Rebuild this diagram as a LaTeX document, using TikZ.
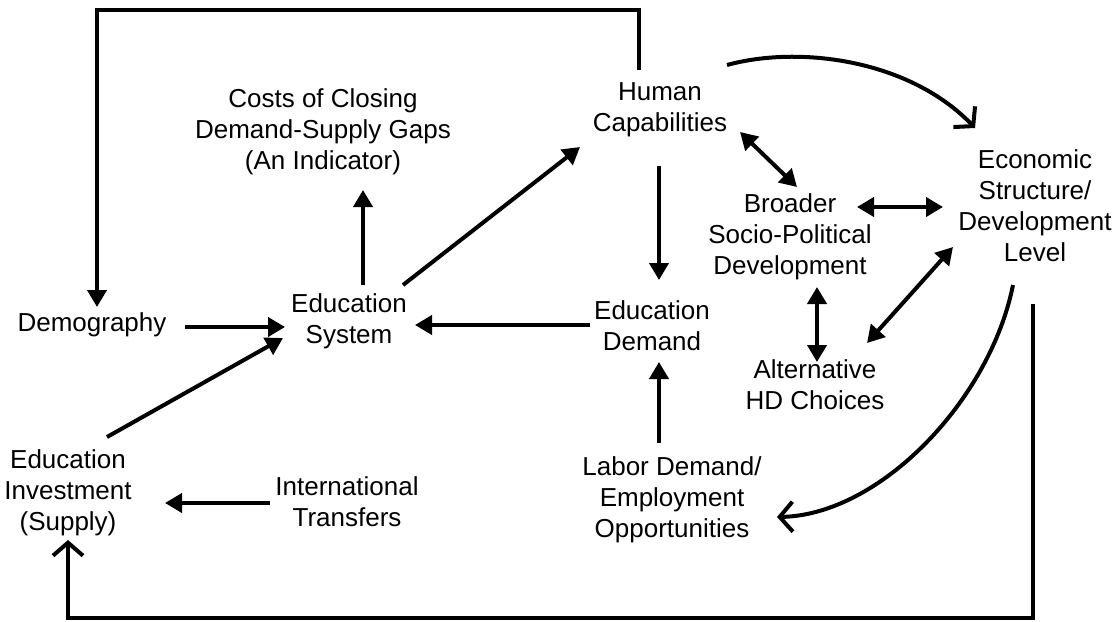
\documentclass[tikz,border=0pt]{standalone}
\usepackage{fontspec}
\setmainfont{Liberation Sans}
\usepackage{tikz}
\usetikzlibrary{arrows.meta}
\newcommand{\diagfont}{\fontsize{13pt}{15.5pt}\selectfont}
\tikzset{
  box/.style={align=center, inner sep=0pt, font=\diagfont},
  arr/.style={line width=2pt, -{Triangle[length=8.5pt,width=9.5pt]}},
  dbl/.style={line width=2pt, {Triangle[length=8.5pt,width=9.5pt]}-{Triangle[length=8.5pt,width=9.5pt]}},
  curvy/.style={line width=2pt, -{Straight Barb[length=6.5pt,width=15pt]}},
  feedback/.style={line width=2pt},
}
\begin{document}
\begin{tikzpicture}[x=0.5pt, y=-0.5pt]
%page
\useasboundingbox (0,0) rectangle (1112,621);
%nodes
\node[box] (demo) at (92,325) {Demography};
\node[box] (edsys) at (349,321) {Education\\System};
\node[box] (costs) at (323,132) {Costs of Closing\\Demand-Supply Gaps\\(An Indicator)};
\node[box] (humcap) at (660,110) {Human\\Capabilities};
\node[box] (econ) at (1035,206) {Economic\\Structure/\\Development\\Level};
\node[box] (broader) at (790,237) {Broader\\Socio-Political\\Development};
\node[box] (alt) at (815,385) {Alternative\\HD Choices};
\node[box] (eddem) at (652,326) {Education\\Demand};
\node[box] (labor) at (672,500) {Labor Demand/\\Employment\\Opportunities};
\node[box] (edinv) at (68,493) {Education\\Investment\\(Supply)};
\node[box] (intl) at (347,502) {International\\Transfers};
%straight arrows
\draw[arr] ([shift={(93,2)}]demo.center) -- ([shift={(-64,6)}]edsys.center);
\draw[arr] ([shift={(39,-56)}]edinv.center) -- ([shift={(-66,17)}]edsys.center);
\draw[arr] ([shift={(-77,1)}]intl.center) -- ([shift={(97,10)}]edinv.center);
\draw[arr] ([shift={(14,-36)}]edsys.center) -- ([shift={(40,58)}]costs.center);
\draw[arr] ([shift={(54,-36)}]edsys.center) -- ([shift={(-80,37)}]humcap.center);
\draw[arr] ([shift={(-62,-1)}]eddem.center) -- ([shift={(66,4)}]edsys.center);
\draw[arr] ([shift={(-1,56)}]humcap.center) -- ([shift={(7,-46)}]eddem.center);
\draw[arr] ([shift={(-13,-57)}]labor.center) -- ([shift={(7,36)}]eddem.center);
%two-way arrows
\draw[dbl] ([shift={(80,22)}]humcap.center) -- ([shift={(7,-50)}]broader.center);
\draw[dbl] ([shift={(67,-30)}]broader.center) -- ([shift={(-92,1)}]econ.center);
\draw[dbl] ([shift={(27,50)}]broader.center) -- ([shift={(2,-23)}]alt.center);
\draw[dbl] ([shift={(52,-42)}]alt.center) -- ([shift={(-82,41)}]econ.center);
%curved arrows
\draw[curvy] ([shift={(67,-45)}]humcap.center) .. controls +(73,-20) and +(-65,-68) .. ([shift={(-60,-78)}]econ.center);
\draw[curvy] ([shift={(-22,79)}]econ.center) .. controls +(-23,115) and +(103,-2) .. ([shift={(105,17)}]labor.center);
%feedback loops
\draw[feedback, -{Triangle[length=8.5pt,width=9.5pt]}] ([shift={(-21,-40)}]humcap.center) -- ++(0,-60) -| ([shift={(5,-18)}]demo.center); %top
\draw[feedback, -{Straight Barb[length=6.5pt,width=15pt]}] ([shift={(-2,98)}]econ.center) -- ++(0,314) -| ([shift={(0,47)}]edinv.center); %bottom
\end{tikzpicture}
\end{document}
